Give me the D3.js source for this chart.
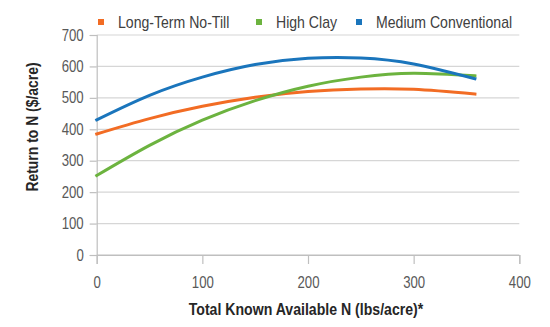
<!DOCTYPE html>
<html>
<head>
<meta charset="utf-8">
<script src="https://cdn.jsdelivr.net/npm/d3@7"></script>
<style>
  html, body { margin: 0; padding: 0; background: #fff; }
  svg { display: block; font-family: "Liberation Sans", Arial, sans-serif; }
</style>
</head>
<body>
<svg id="chart" width="550" height="327"></svg>
<script>
// ---- data ----
const nValues = [0, 50, 100, 150, 200, 250, 300, 358];
const seriesNames = ["Long-Term No-Till", "High Clay", "Medium Conventional"];
const noTill = [385, 434, 473, 502, 520, 528, 527, 512];
const highClay = [253, 349, 429, 491, 537, 566, 578, 570];
const mediumConv = [430, 508, 566, 606, 626, 627, 608, 561];
const yTicks = [0, 100, 200, 300, 400, 500, 600, 700];
const xTicks = [0, 100, 200, 300, 400];
const colors = ["#F26C24", "#6CB33F", "#1A75BC"];

const seriesValues = [noTill, highClay, mediumConv];

const svg = d3.select("#chart");
const x = d3.scaleLinear().domain([0, 400]).range([96.7, 519.3]);
const y = d3.scaleLinear().domain([0, 700]).range([255, 35]);

// gridlines
svg.append("g").selectAll("line").data(yTicks).join("line")
  .attr("x1", x(0)).attr("x2", x(400))
  .attr("y1", d => y(d)).attr("y2", d => y(d))
  .attr("stroke", d => d === 0 ? "#bfbfbf" : "#d6d6d6").attr("stroke-width", 1.2);

// y axis
const yAxis = svg.append("g").attr("transform", `translate(${x(0)},0)`)
  .call(d3.axisLeft(y).tickValues(yTicks).tickSize(7).tickPadding(6));
yAxis.select(".domain").attr("stroke", "#bfbfbf").attr("stroke-width", 1.2);
yAxis.selectAll(".tick line").attr("stroke", "#bfbfbf").attr("stroke-width", 1.2);
yAxis.selectAll(".tick text")
  .attr("font-size", 15.8).attr("fill", "#595959")
  .attr("transform", "scale(0.835,1)")
  .attr("x", -13 / 0.835);

// x axis
const xAxis = svg.append("g").attr("transform", `translate(0,${y(0)})`)
  .call(d3.axisBottom(x).tickValues(xTicks).tickSize(9).tickPadding(13));
xAxis.select(".domain").attr("stroke", "#bfbfbf").attr("stroke-width", 1.2);
xAxis.selectAll(".tick line").attr("stroke", "#bfbfbf").attr("stroke-width", 1.2);
xAxis.selectAll(".tick text")
  .attr("font-size", 15.8).attr("fill", "#595959")
  .attr("transform", "scale(0.835,1)");

// lines
const line = d3.line()
  .x((d, i) => x(nValues[i]))
  .y(d => y(d))
  .curve(d3.curveNatural);

svg.append("g").selectAll("path").data(seriesValues).join("path")
  .attr("d", d => line(d))
  .attr("fill", "none")
  .attr("stroke", (d, i) => colors[i])
  .attr("stroke-width", 3)
  .attr("stroke-linecap", "square");

// axis titles
svg.append("text")
  .attr("transform", `translate(306,315) scale(0.83,1)`)
  .attr("text-anchor", "middle")
  .attr("font-size", 17).attr("font-weight", "bold").attr("fill", "#262626")
  .text("Total Known Available N (lbs/acre)*");

svg.append("text")
  .attr("transform", `translate(38,127) rotate(-90) scale(0.82,1)`)
  .attr("text-anchor", "middle")
  .attr("font-size", 17).attr("font-weight", "bold").attr("fill", "#262626")
  .text("Return to N ($/acre)");

// legend
const legendX = [98, 256, 356];
const leg = svg.append("g").selectAll("g").data(seriesNames).join("g")
  .attr("transform", (d, i) => `translate(${legendX[i]},0)`);
leg.append("rect").attr("x", 0).attr("y", 19).attr("width", 6).attr("height", 6)
  .attr("fill", (d, i) => colors[i]);
leg.append("text")
  .attr("transform", "translate(20,28) scale(0.88,1)")
  .attr("font-size", 16).attr("fill", "#404040")
  .text(d => d);
</script>
</body>
</html>
